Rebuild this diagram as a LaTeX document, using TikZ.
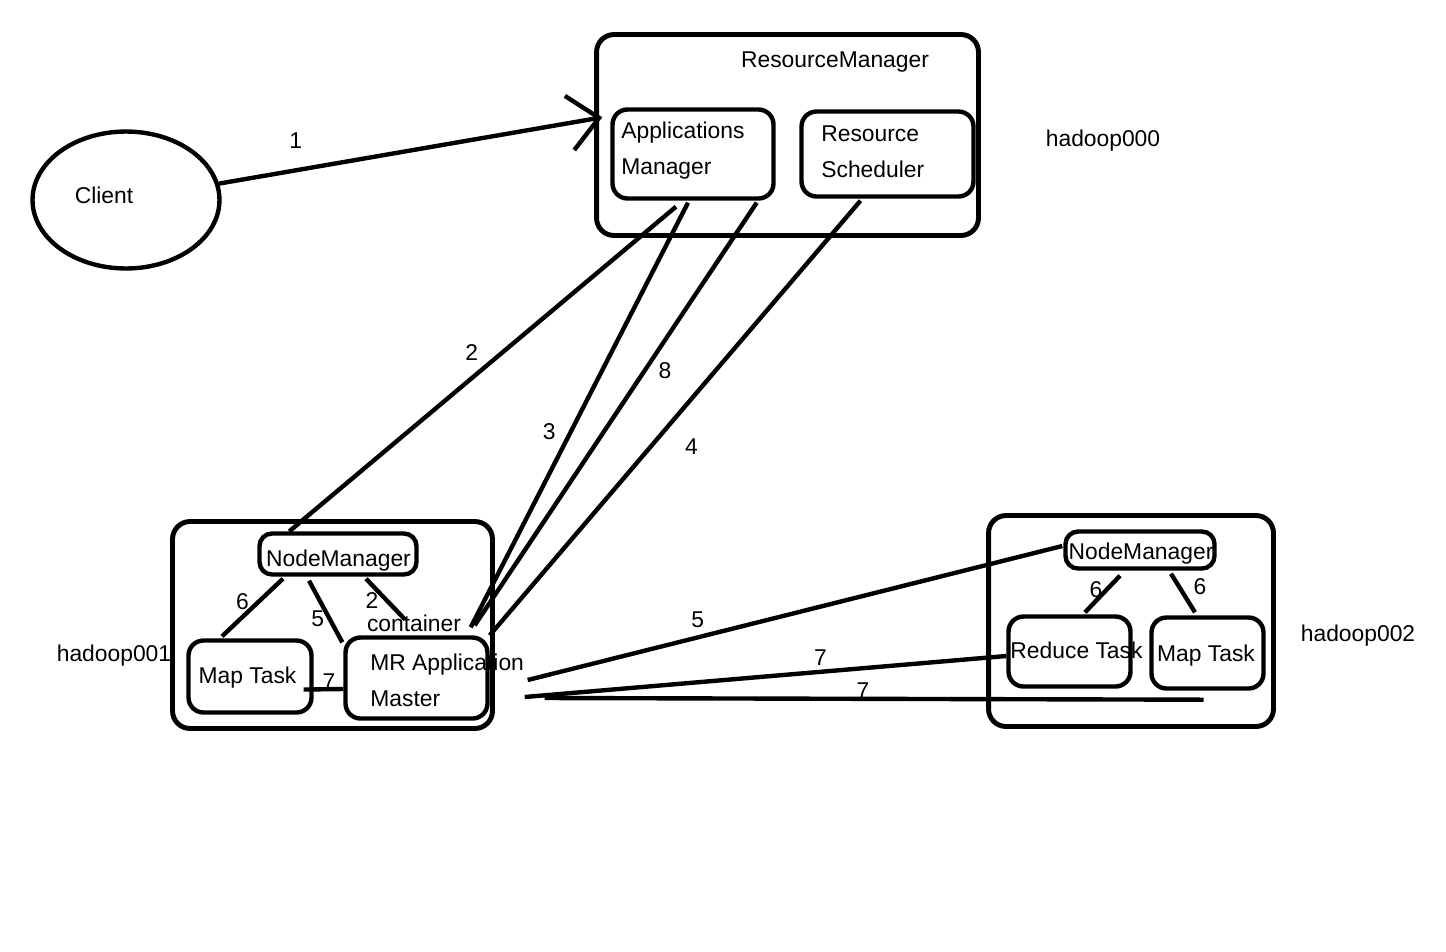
\documentclass[tikz,border=0pt]{standalone}
\usepackage{fontspec}
\setmainfont{Liberation Sans}
\usetikzlibrary{calc,arrows.meta,shapes.geometric}

\begin{document}
\begin{tikzpicture}[x=0.02cm, y=-0.02cm,
		every node/.style={font=\fontsize{13pt}{20.4pt}\selectfont},
		outerbox/.style={draw, line width=2.8pt, rounded corners=0.35cm, inner sep=0pt},
		innerbox/.style={draw, line width=2.5pt, rounded corners=0.3cm, inner sep=0pt},
		txt/.style={inner sep=0pt, text height=9.3pt, text depth=0pt},
		multi/.style={inner sep=0pt, align=left, anchor=west},
		conn/.style={line width=2.5pt}]
			\fill[white] (0,0) rectangle (1446,951);
			\useasboundingbox (0,0) rectangle (1446,951);
			\coordinate (rmc) at (787.5,135);
			\coordinate (hac) at (332.5,625);
			\coordinate (hbc) at (1131,621);
			\node (client) at (126,200) [draw, ellipse, line width=2.5pt, inner sep=0pt, minimum width=3.74cm, minimum height=2.74cm] {};
			\draw node (rm) at (rmc) [outerbox, minimum width=7.64cm, minimum height=4.02cm] {}
				node (am) at (693,154) [innerbox, minimum width=3.22cm, minimum height=1.78cm] {}
				node (rs) at (887.5,154) [innerbox, minimum width=3.44cm, minimum height=1.70cm] {};
			\draw node (ha) at (hac) [outerbox, minimum width=6.40cm, minimum height=4.14cm] {}
				node (nma) at (338,554) [innerbox, rounded corners=0.25cm, minimum width=3.14cm, minimum height=0.82cm] {}
				node (mta) at (250,676.5) [innerbox, minimum width=2.46cm, minimum height=1.44cm] {}
				node (mr) at (416.5,678) [innerbox, minimum width=2.84cm, minimum height=1.62cm] {};
			\draw node (hb) at (hbc) [outerbox, minimum width=5.70cm, minimum height=4.22cm] {}
				node (nmb) at (1140,550) [innerbox, rounded corners=0.25cm, minimum width=2.98cm, minimum height=0.74cm] {}
				node (rt) at (1069.5,651.5) [innerbox, minimum width=2.44cm, minimum height=1.40cm] {}
				node (mtb) at (1207.5,653) [innerbox, minimum width=2.24cm, minimum height=1.42cm] {};
			\node (clienttext) at (104,195) [txt] {Client};
			\node (rmtext) at (835,59) [txt] {ResourceManager};
			\node (amtext) at (621,151) [multi] {Applications\\Manager};
			\node (rstext) at (821,152) [multi] {Resource\\Scheduler};
			\node (nmatext) at (338.5,558) [txt] {NodeManager};
			\node (mtatext) at (247.5,675) [txt] {Map Task};
			\node (mrtext) at (370,680) [multi] {MR Application\\Master};
			\node (ctn) at (414,623) [txt] {container};
			\node (nmbtext) at (1141,551) [txt] {NodeManager};
			\node (rttext) at (1076.5,650.5) [txt] {Reduce Task};
			\node (mtbtext) at (1206,653) [txt] {Map Task};
			\node (hzero) at (1103,138) [txt] {hadoop000};
			\node (hone) at (114,653) [txt] {hadoop001};
			\node (htwo) at (1358,633) [txt] {hadoop002};
			\draw[conn, -{Straight Barb[length=0.6cm, width=1.1cm]}] (client.10) -- node (l1) [txt, pos=.2, shift={(0,-30)}] {1} ($(am.north west)+(-8,10)$);
			\draw[conn] ($(am.south)+(-17,6)$) -- node (l2) [txt, pos=.5, shift={(-11,-17)}] {2} ($(nma.north west)+(32,0)$);
			\draw[conn] ($(am.south)+(-5,2)$) -- node (l3) [txt, pos=.5, shift={(-30,16)}] {3} ($(mr.north east)+(-19,-8)$);
			\draw[conn] ($(am.south east)+(-19,2)$) -- node (l8) [txt, pos=.4, shift={(21,-1)}] {8} ($(mr.north east)+(-15,-10)$);
			\draw[conn] ($(rs.south)+(-27,2)$) -- node (l4) [txt, pos=.55, shift={(35,7)}] {4} (mr.north east);
			\draw[conn] ($(nma.south)+(-55,2)$) -- node (l6a) [txt, pos=.5, shift={(-10,-6)}] {6} ($(mta.north)+(-28,-2)$);
			\draw[conn] ($(nma.south)+(-29,4)$) -- node (l5a) [txt, pos=.5, shift={(-8,6.5)}] {5} ($(mr.north west)+(-1,7)$);
			\draw[conn] ($(nma.south)+(28,2)$) -- node (l2b) [txt, pos=.5, shift={(-13.5,1)}] {2} ($(ctn.north)+(-9,5)$);
			\draw[conn] ($(mta.east)+(-10,13)$) -- node (l7a) [txt, pos=.5, shift={(5.5,-8)}] {7} ($(mr.west)+(0,11)$);
			\draw[conn] ($(mr.east)+(38,2)$) -- node (l5b) [txt, pos=.32, shift={(-1,-18)}] {5} ($(nmb.west)+(-1,-4)$);
			\draw[conn] ($(mr.east)+(35,19)$) -- node (l7b) [txt, pos=.616, shift={(-1,-14)}] {7} ($(rt.west)+(0,4.5)$);
			\draw[conn] ($(mr.east)+(55,20)$) -- node (l7c) [txt, pos=.48, shift={(2,-8)}] {7} ($(mtb.south)+(-4,9)$);
			\draw[conn] ($(nmb.south)+(-20,5)$) -- node (l6b) [txt, pos=.5, shift={(-6.5,-5)}] {6} ($(rt.north)+(15.5,-2)$);
			\draw[conn] ($(nmb.south)+(31,3)$) -- node (l6c) [txt, pos=.5, shift={(17,-7)}] {6} ($(mtb.north)+(-12.5,-3)$);
		\end{tikzpicture}
\end{document}
